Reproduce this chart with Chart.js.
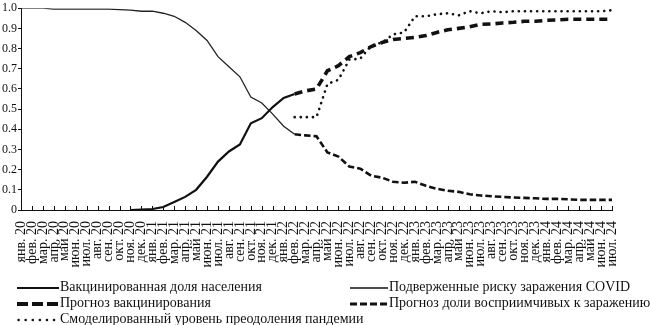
<!DOCTYPE html>
<html>
<head>
<meta charset="utf-8">
<script src="https://cdn.jsdelivr.net/npm/chart.js@4.4.0/dist/chart.umd.min.js"></script>
<style>
  body { margin: 0; background: #fff; }
  #wrap { position: relative; width: 650px; height: 325px; font-family: "Liberation Serif", serif; }
  #chart { position: absolute; left: 0; top: 0; }
  .leg { position: absolute; font-size: 14px; line-height: 16px; color: #111; white-space: nowrap; }
  .leg svg { vertical-align: middle; margin-right: 1px; }
</style>
</head>
<body>
<div id="wrap">
  <canvas id="chart" width="650" height="325"></canvas>
  <div class="leg" style="left:17px;top:279px"><svg width="42" height="8"><line x1="0" y1="4" x2="42" y2="4" stroke="#111" stroke-width="2"/></svg>Вакцинированная доля населения</div>
  <div class="leg" style="left:350px;top:279px"><svg width="38" height="8"><line x1="0" y1="4" x2="38" y2="4" stroke="#111" stroke-width="1.3"/></svg>Подверженные риску заражения COVID</div>
  <div class="leg" style="left:17px;top:295px"><svg width="42" height="8"><line x1="0" y1="4" x2="42" y2="4" stroke="#111" stroke-width="4" stroke-dasharray="11 4"/></svg>Прогноз вакцинирования</div>
  <div class="leg" style="left:350px;top:295px"><svg width="38" height="8"><line x1="0" y1="4" x2="38" y2="4" stroke="#111" stroke-width="3" stroke-dasharray="7 3"/></svg>Прогноз доли восприимчивых к заражению</div>
  <div class="leg" style="left:17px;top:311px"><svg width="42" height="8"><line x1="1.5" y1="4" x2="42" y2="4" stroke="#111" stroke-width="2.5" stroke-linecap="round" stroke-dasharray="0.1 7"/></svg>Смоделированный уровень преодоления пандемии</div>
</div>
<script>
// months Jan 2020 .. Jul 2024
var monthNames = ['янв.', 'фев.', 'мар.', 'апр.', 'май', 'июн.', 'июл.', 'авг.', 'сен.', 'окт.', 'ноя.', 'дек.'];
var years = ['20', '21', '22', '23', '24'];
var labels = [];
years.forEach(function (y) {
  monthNames.forEach(function (m) {
    if (labels.length < 55) labels.push(m + ' ' + y);
  });
});

var _ = null;
// actual data, Jan 20 .. Feb 22
var vaccinated = [_, _, _, _, _, _, _, _, _, _, 0, 0.002, 0.005, 0.015, 0.04, 0.065, 0.1, 0.165, 0.24, 0.29, 0.325, 0.43, 0.455, 0.51, 0.555, 0.575];
var susceptible = [1.0, 1.0, 1.0, 0.995, 0.995, 0.995, 0.995, 0.995, 0.995, 0.993, 0.99, 0.985, 0.985, 0.975, 0.96, 0.93, 0.89, 0.84, 0.76, 0.71, 0.66, 0.56, 0.53, 0.475, 0.415, 0.375];
// forecasts, Feb 22 .. Jul 24
var vaccForecast = [0.575, 0.59, 0.6, 0.69, 0.715, 0.76, 0.78, 0.81, 0.83, 0.845, 0.85, 0.855, 0.865, 0.88, 0.893, 0.9, 0.908, 0.92, 0.922, 0.927, 0.93, 0.935, 0.935, 0.94, 0.942, 0.945, 0.945, 0.945, 0.945, 0.945];
var susForecast = [0.375, 0.37, 0.365, 0.285, 0.265, 0.215, 0.205, 0.17, 0.16, 0.14, 0.135, 0.14, 0.12, 0.105, 0.095, 0.09, 0.078, 0.072, 0.068, 0.065, 0.062, 0.06, 0.058, 0.055, 0.055, 0.053, 0.05, 0.05, 0.05, 0.05];
var modeled = [0.46, 0.46, 0.46, 0.625, 0.645, 0.745, 0.75, 0.815, 0.83, 0.87, 0.88, 0.96, 0.96, 0.97, 0.975, 0.965, 0.985, 0.975, 0.985, 0.98, 0.985, 0.985, 0.985, 0.985, 0.985, 0.985, 0.985, 0.985, 0.985, 0.99];
var forecastStart = 25; // фев. 22

function pad(arr, start) {
  var out = [];
  for (var i = 0; i < labels.length; i++) {
    var j = i - start;
    out.push(j >= 0 && j < arr.length ? arr[j] : null);
  }
  return out;
}

// upward tick marks on the category axis
var innerTicks = {
  id: 'innerTicks',
  afterDraw: function (chart) {
    var x = chart.scales.x, y = chart.scales.y, ctx = chart.ctx;
    ctx.save();
    ctx.strokeStyle = '#111';
    ctx.lineWidth = 1;
    ctx.beginPath();
    for (var i = 0; i < labels.length; i++) {
      var px = Math.round(x.getPixelForValue(i)) + 0.5;
      ctx.moveTo(px, y.bottom);
      ctx.lineTo(px, y.bottom - 4);
    }
    ctx.stroke();
    ctx.restore();
  }
};

var serif = '"Liberation Serif", "Times New Roman", serif';

new Chart(document.getElementById('chart').getContext('2d'), {
  type: 'line',
  data: {
    labels: labels,
    datasets: [
      { label: 'Вакцинированная доля населения', data: pad(vaccinated, 0), borderColor: '#111', borderWidth: 2.2 },
      { label: 'Подверженные риску заражения COVID', data: pad(susceptible, 0), borderColor: '#222', borderWidth: 1.3 },
      { label: 'Прогноз вакцинирования', data: pad(vaccForecast, forecastStart), borderColor: '#111', borderWidth: 3.6, borderDash: [8, 5] },
      { label: 'Прогноз доли восприимчивых к заражению', data: pad(susForecast, forecastStart), borderColor: '#111', borderWidth: 2.6, borderDash: [6.5, 3] },
      { label: 'Смоделированный уровень преодоления пандемии', data: pad(modeled, forecastStart), borderColor: '#111', borderWidth: 2.6, borderDash: [0.1, 6], borderCapStyle: 'round' }
    ]
  },
  options: {
    responsive: false,
    devicePixelRatio: 1,
    animation: false,
    events: [],
    layout: { padding: { top: 7, right: 38, left: 0, bottom: 0 } },
    elements: { point: { radius: 0 }, line: { tension: 0, fill: false } },
    plugins: { legend: { display: false }, tooltip: { enabled: false } },
    scales: {
      x: {
        offset: false,
        grid: { display: false },
        border: { display: true, color: '#111', width: 1 },
        ticks: {
          autoSkip: false, minRotation: 90, maxRotation: 90, padding: 3,
          color: '#111', font: { family: serif, size: 14 }
        },
        afterFit: function (s) { s.height = 115; }
      },
      y: {
        min: 0, max: 1,
        grid: { drawOnChartArea: false, drawTicks: true, tickLength: 3, color: '#111' },
        border: { display: true, color: '#111', width: 1 },
        ticks: {
          stepSize: 0.1, padding: 1, color: '#111', font: { family: serif, size: 12 },
          callback: function (v) { return v === 0 ? '0' : v.toFixed(1); }
        },
        afterFit: function (s) { s.width = 21; }
      }
    }
  },
  plugins: [innerTicks]
});
</script>
</body>
</html>
